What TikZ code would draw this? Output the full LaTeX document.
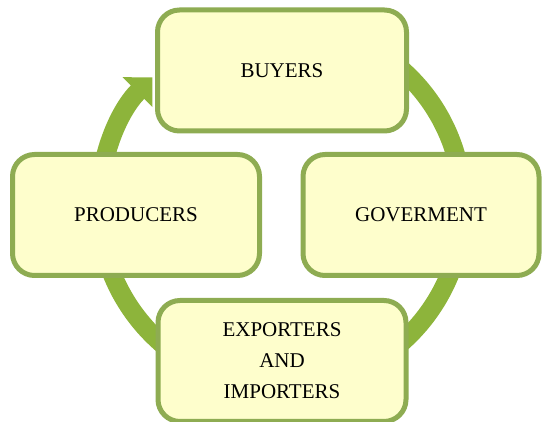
\documentclass[tikz,border=0pt]{standalone}
\usepackage{fontspec}
\setmainfont{Liberation Serif}
\usetikzlibrary{arrows.meta,calc}
\definecolor{boxfill}{HTML}{FEFECC}
\definecolor{boxline}{HTML}{8EAC52}
\definecolor{flowgreen}{HTML}{8DB43B}

\begin{document}
\begin{tikzpicture}[x=1pt, y=-1pt,
		stage/.style={draw=boxline, fill=boxfill, line width=5pt, rounded corners=22pt,
			minimum height=121pt, inner sep=0pt, align=center,
			font=\fontsize{21}{31}\selectfont},
		roundtrip/.style={draw=flowgreen, line width=19pt, -{Triangle[length=21pt, width=41pt]}}]
	%%%%% START %%%%%
	
	\useasboundingbox (0, 0) rectangle (542, 422);
	
	% the cycle arrow behind the boxes
	\coordinate (hub) at (281, 206);
	\draw[roundtrip] ($(hub)+(-60:182)$) arc[start angle=-60, end angle=225, radius=182];
	
	\node[stage, minimum width=249pt] (buyers) at (282, 70.5) {BUYERS};
	\node[stage, minimum width=247pt] (producers) at (136, 215) {PRODUCERS};
	\node[stage, minimum width=236pt] (goverment) at (421, 215) {GOVERMENT};
	\node[stage, minimum width=248pt] (traders) at (282, 361) {EXPORTERS\\AND\\IMPORTERS};
	
	%%%%% END %%%%%
\end{tikzpicture}
\end{document}
